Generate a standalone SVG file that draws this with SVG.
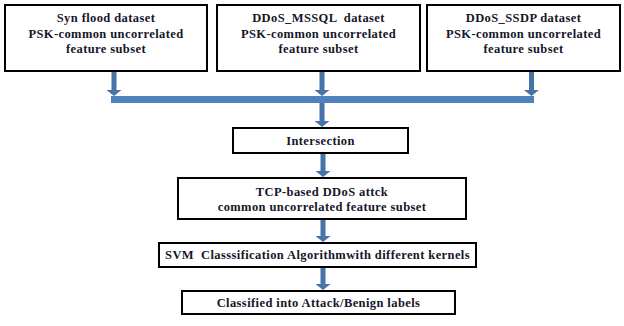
<svg xmlns="http://www.w3.org/2000/svg" width="624" height="326" viewBox="0 0 624 326">
<defs>
<style>
.box{fill:#fff;stroke:#000;stroke-width:2}
.t{font-family:"Liberation Serif","Times New Roman",serif;font-weight:bold;font-size:12.5px;fill:#16162a;text-anchor:middle;letter-spacing:0.4px}
.shaft{fill:#4573aa}
.bar{fill:#4f81bd}
</style>
</defs>
<rect width="624" height="326" fill="#fff"/>
<g id="connectors">
<path class="shaft" d="M111.5 72 H116.5 V90 H121.5 L114 96 L106.5 90 H111.5 Z"/>
<path class="shaft" d="M319.5 72 H324.5 V90 H329.5 L322 96 L314.5 90 H319.5 Z"/>
<path class="shaft" d="M529 72 H534 V90 H539 L531.5 96 L524 90 H529 Z"/>
<rect class="bar" x="111" y="96" width="423" height="7"/>
<path class="shaft" d="M319.5 103 H324.5 V121 H329.5 L322 127 L314.5 121 H319.5 Z"/>
<path class="shaft" d="M320.5 154 H325.5 V171 H330.5 L323 177 L315.5 171 H320.5 Z"/>
<path class="shaft" d="M320.5 220 H325.5 V236 H330.5 L323 242 L315.5 236 H320.5 Z"/>
<path class="shaft" d="M320.5 268 H325.5 V284 H330.5 L323 290 L315.5 284 H320.5 Z"/>
</g>
<g id="syn">
<rect class="box" x="5" y="5" width="202" height="66"/>
<text class="t" x="106" y="22">Syn flood dataset</text>
<text class="t" x="106" y="38">PSK-common uncorrelated</text>
<text class="t" x="106" y="53">feature subset</text>
</g>
<g id="mssql">
<rect class="box" x="217" y="5" width="203" height="66"/>
<text class="t" x="318.5" y="22" xml:space="preserve">DDoS_MSSQL  dataset</text>
<text class="t" x="318.5" y="38">PSK-common uncorrelated</text>
<text class="t" x="318.5" y="53">feature subset</text>
</g>
<g id="ssdp">
<rect class="box" x="427" y="5" width="193" height="66"/>
<text class="t" x="523.5" y="22">DDoS_SSDP dataset</text>
<text class="t" x="523.5" y="38">PSK-common uncorrelated</text>
<text class="t" x="523.5" y="53">feature subset</text>
</g>
<g id="intersection">
<rect class="box" x="233" y="128" width="175" height="25"/>
<text class="t" x="320.5" y="145">Intersection</text>
</g>
<g id="tcp">
<rect class="box" x="178" y="178" width="288" height="41"/>
<text class="t" x="322" y="196">TCP-based DDoS attck</text>
<text class="t" x="322" y="211">common uncorrelated feature subset</text>
</g>
<g id="svm">
<rect class="box" x="159" y="243" width="317" height="24"/>
<text class="t" x="317.5" y="259" xml:space="preserve">SVM  Classsification Algorithmwith different kernels</text>
</g>
<g id="classified">
<rect class="box" x="182" y="291" width="273" height="23"/>
<text class="t" x="318.5" y="307">Classified into Attack/Benign labels</text>
</g>
</svg>
